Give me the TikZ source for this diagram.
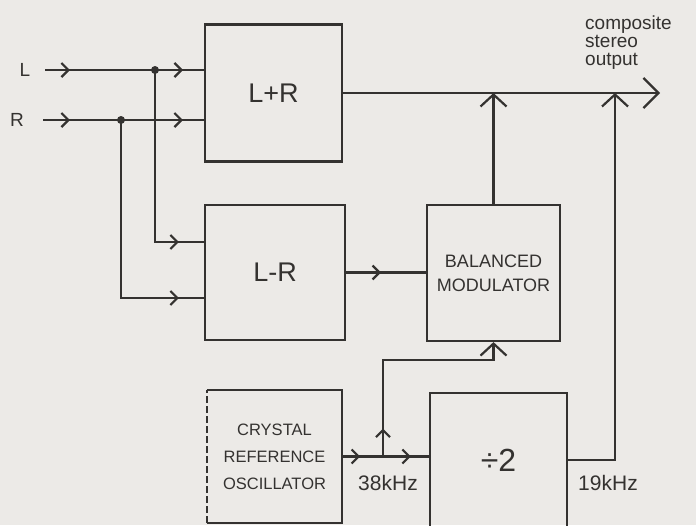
\documentclass[tikz,border=0pt]{standalone}
\usepackage{fontspec}
\setmainfont{Liberation Sans}
\usetikzlibrary{arrows.meta,decorations.markings}
\definecolor{bg}{RGB}{236,234,231}
\definecolor{ink}{RGB}{52,50,48}
\tikzset{
  wire/.style={draw=ink,line width=2.2pt},
  blk/.style={draw=ink,line width=2.2pt,rectangle,inner sep=0pt,text=ink,align=center},
  bare/.style={rectangle,inner sep=0pt,text=ink,align=center},
  lbl/.style={text=ink,inner sep=0pt},
  tipat/.style={postaction={decorate,decoration={markings,mark=at position #1 with {\arrow{Straight Barb[length=7pt,width=14pt]}}}}},
  endtip/.style={-{Straight Barb[length=12pt,width=26pt]}},
  bigtip/.style={-{Straight Barb[length=15pt,width=30pt]}},
}
\begin{document}
\begin{tikzpicture}[x=1pt,y=-1pt]
\useasboundingbox (0,0) rectangle (696,525);
\fill[bg] (0,0) rectangle (696,525);
\clip (0,0) rectangle (696,525);

% blocks
\node[blk,minimum width=137pt,minimum height=137pt,font=\fontsize{27}{30}\selectfont] (LpR) at (273.5,93) {L+R};
\node[blk,minimum width=140pt,minimum height=135pt,font=\fontsize{27}{30}\selectfont] (LmR) at (275,272.5) {L-R};
\node[blk,minimum width=133pt,minimum height=136pt,font=\fontsize{18}{24}\selectfont] (BM) at (493.5,273) {BALANCED\\MODULATOR};
\node[bare,minimum width=135pt,minimum height=133pt,font=\fontsize{16.5}{27}\selectfont] (XO) at (274.5,456.5) {CRYSTAL\\REFERENCE\\OSCILLATOR};
\draw[wire] (XO.north west) -- (XO.north east) -- (XO.south east) -- (XO.south west);
\draw[wire,dash pattern=on 7pt off 3pt] (XO.south west) -- (XO.north west);
\node[blk,minimum width=137pt,minimum height=134pt,font=\fontsize{32}{36}\selectfont] (DIV) at (498.5,460) {÷2};

% labels
\node[lbl,font=\fontsize{19}{22}\selectfont] (Llab) at (25,70) {L};
\node[lbl,font=\fontsize{19}{22}\selectfont] (Rlab) at (17,120) {R};
\node[lbl,anchor=west,align=left,font=\fontsize{19}{18}\selectfont] (outlab) at (585,43) {composite\\stereo\\output};
\node[lbl,font=\fontsize{21}{24}\selectfont] (f38) at (388,483) {38kHz};
\node[lbl,font=\fontsize{21}{24}\selectfont] (f19) at (608,483) {19kHz};

% coordinates
\coordinate (Lst) at (45,70);
\coordinate (Rst) at (43,120);
\coordinate (jL) at (155,70);
\coordinate (jR) at (121,120);
\coordinate (Out) at (660,93);
\coordinate (c19) at (615,93);
\coordinate (J38) at (383,456.5);
\coordinate (T) at (493.5,360);

% inputs
\draw[wire,tipat=25pt] (Lst) -- (jL);
\draw[wire,tipat=28pt] (jL) -- (LpR.west |- jL);
\draw[wire,tipat=27pt] (Rst) -- (jR);
\draw[wire,tipat=62pt] (jR) -- (LpR.west |- jR);
\draw[wire,tipat=-25pt] (jL) |- (LmR.west |- 0,242);
\draw[wire,tipat=-25pt] (jR) |- (LmR.west |- 0,298);
\fill[ink] (jL) circle (4pt);
\fill[ink] (jR) circle (4pt);

% middle
\draw[wire,tipat=35pt] (LmR.east) -- (LmR.east -| BM.west);
\draw[wire,bigtip] (LpR.east) -- (Out);
\draw[wire,endtip] (BM.north) -- (BM.north |- Out);

% bottom
\draw[wire,tipat=18pt,tipat=-18pt] (XO.east) -- (XO.east -| DIV.west);
\draw[wire,tipat=28pt,endtip] (J38) |- (T) -- (BM.south);
\draw[wire,endtip] (DIV.east) -| (c19);
\end{tikzpicture}
\end{document}
